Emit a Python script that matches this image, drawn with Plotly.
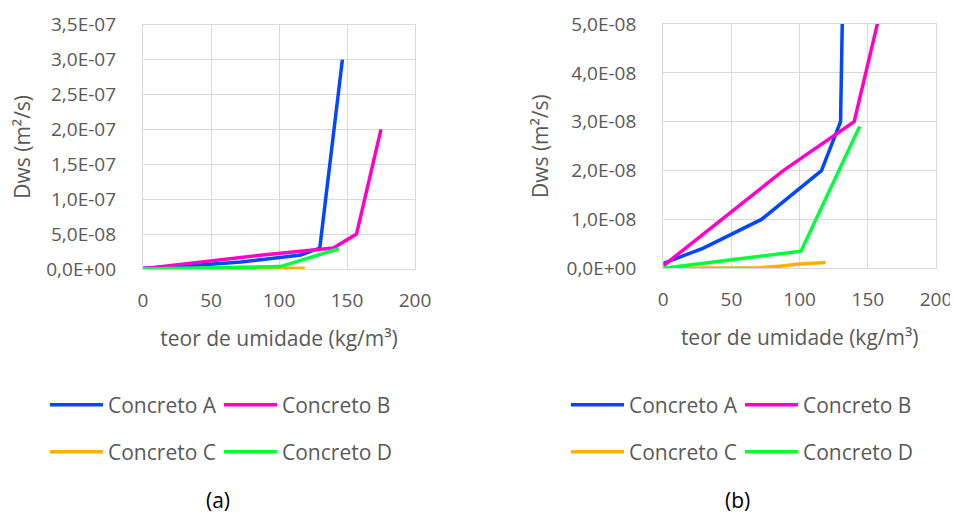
import plotly.graph_objects as go

# ---- data ----
series_names = ["Concreto A", "Concreto B", "Concreto C", "Concreto D"]
xA = [0, 29, 72, 116, 130, 146.6]
yA = [1.0e-9, 4.1e-9, 1.0e-8, 2.0e-8, 3.0e-8, 3.0e-7]
xB = [0, 88, 140, 157, 175]
yB = [5.0e-10, 2.0e-8, 3.0e-8, 5.0e-8, 2.0e-7]
xC = [0, 70, 85, 100, 119]
yC = [0.0, 1.0e-10, 4.0e-10, 9.0e-10, 1.2e-9]
xD = [0, 101, 144]
yD = [0.0, 3.5e-9, 2.9e-8]

x_ticks = [0, 50, 100, 150, 200]
y_ticks_a = [0, 5e-8, 1e-7, 1.5e-7, 2e-7, 2.5e-7, 3e-7, 3.5e-7]
y_text_a = ["0,0E+00", "5,0E-08", "1,0E-07", "1,5E-07", "2,0E-07", "2,5E-07", "3,0E-07", "3,5E-07"]
y_ticks_b = [0, 1e-8, 2e-8, 3e-8, 4e-8, 5e-8]
y_text_b = ["0,0E+00", "1,0E-08", "2,0E-08", "3,0E-08", "4,0E-08", "5,0E-08"]

colors = ["#0047FF", "#FF00CC", "#FFB000", "#00FF3C"]
xs = [xA, xB, xC, xD]
ys = [yA, yB, yC, yD]

# The page body has an 8px margin, so the figure is drawn 8px right/down.
OFF = 8
SW, SH = 958, 516                     # screen size
W, H = SW - OFF, SH - OFF             # figure size
ML, MT = 143 - OFF, 24 - OFF          # plot-area edges (screen 143 / 24)
MR, MB = SW - 936, SH - 269           # plot-area edges (screen 936 / 269)
PW, PH = W - ML - MR, H - MT - MB
FONT = "Open Sans"
GRAY = "#595959"
GRID = "#d9d9d9"


def px_x(p):
    """screen x pixel -> paper fraction"""
    return (p - OFF - ML) / PW


def px_y(p):
    """screen y pixel -> paper fraction"""
    return (H - MB - (p - OFF)) / PH


fig = go.Figure()

leg_left = ["legend", "legend", "legend2", "legend2"]
leg_right = ["legend3", "legend3", "legend4", "legend4"]
entry_w = [106, 130, 106, 130]

for i in range(4):
    fig.add_trace(go.Scatter(x=xs[i], y=ys[i], mode="lines", name=series_names[i],
                             line=dict(color=colors[i], width=3.5), legendwidth=entry_w[i],
                             xaxis="x", yaxis="y", legend=leg_left[i]))
for i in range(4):
    fig.add_trace(go.Scatter(x=xs[i], y=ys[i], mode="lines", name=series_names[i],
                             line=dict(color=colors[i], width=3.5), legendwidth=entry_w[i],
                             xaxis="x2", yaxis="y2", legend=leg_right[i]))

axis_common = dict(showgrid=True, gridcolor=GRID, gridwidth=1.3, zeroline=False,
                   showline=True, linecolor=GRID, linewidth=1.3, mirror=True,
                   tickfont=dict(family=FONT, size=19, color=GRAY), ticks="",
                   automargin=True)
title_font = dict(family=FONT, size=21, color=GRAY)

fig.update_layout(
    width=W, height=H,
    margin=dict(l=ML, r=MR, t=MT, b=MB, autoexpand=False),
    paper_bgcolor="white", plot_bgcolor="white",
    font=dict(family=FONT, size=21, color=GRAY),
    showlegend=True,
    xaxis=dict(domain=[px_x(143), px_x(415)], range=[0, 200], tickvals=x_ticks,
               anchor="y", ticklabelstandoff=14,
               title=dict(text="teor de umidade (kg/m³)", standoff=19, font=title_font),
               **axis_common),
    yaxis=dict(domain=[px_y(269), px_y(24.7)], range=[0, 3.5e-7], tickvals=y_ticks_a,
               ticktext=y_text_a, anchor="x", ticklabelstandoff=22,
               title=dict(text="Dws (m²/s)", standoff=12, font=title_font),
               **axis_common),
    xaxis2=dict(domain=[px_x(663.3), px_x(936)], range=[0, 200], tickvals=x_ticks,
                anchor="y2", ticklabelstandoff=14,
                title=dict(text="teor de umidade (kg/m³)", standoff=19, font=title_font),
                **axis_common),
    yaxis2=dict(domain=[px_y(268.3), px_y(24)], range=[0, 5e-8], tickvals=y_ticks_b,
                ticktext=y_text_b, anchor="x2", ticklabelstandoff=22,
                title=dict(text="Dws (m²/s)", standoff=12, font=title_font),
                **axis_common),
)

leg_common = dict(orientation="h", entrywidthmode="pixels",
                  itemwidth=53, font=dict(family=FONT, size=21, color=GRAY),
                  bgcolor="rgba(0,0,0,0)", xanchor="left", yanchor="middle",
                  tracegroupgap=0, itemclick=False, itemdoubleclick=False)

fig.update_layout(
    legend=dict(x=px_x(45), y=px_y(405), **leg_common),
    legend2=dict(x=px_x(45), y=px_y(452), **leg_common),
    legend3=dict(x=px_x(566), y=px_y(405), **leg_common),
    legend4=dict(x=px_x(566), y=px_y(452), **leg_common),
)

fig.add_annotation(text="(a)", x=px_x(217.7), y=px_y(515), xref="paper", yref="paper",
                   showarrow=False, font=dict(family=FONT, size=21, color="#000000"),
                   xanchor="center", yanchor="bottom", borderpad=0)
fig.add_annotation(text="(b)", x=px_x(737), y=px_y(515), xref="paper", yref="paper",
                   showarrow=False, font=dict(family=FONT, size=21, color="#000000"),
                   xanchor="center", yanchor="bottom", borderpad=0)

fig.write_html("out.html", config={"displayModeBar": False})
